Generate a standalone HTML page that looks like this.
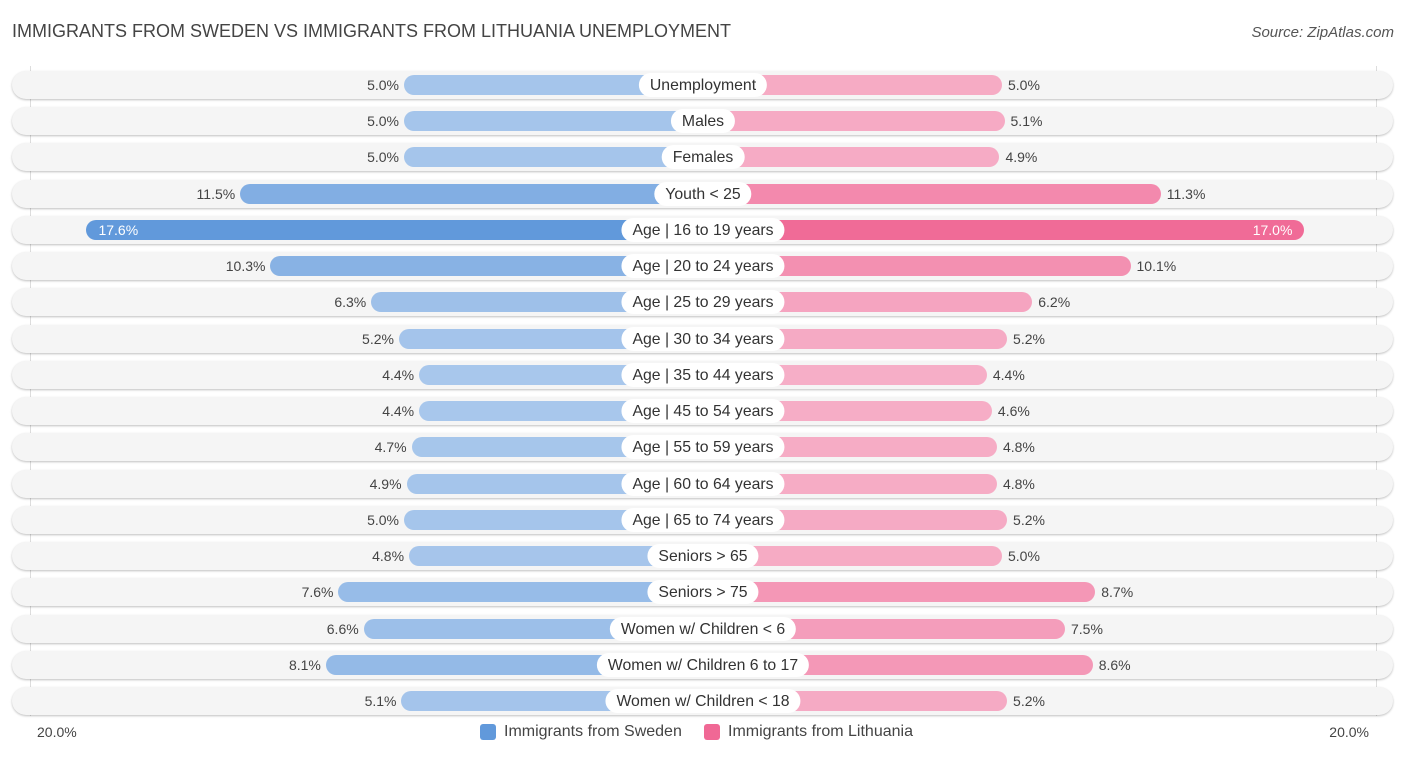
<!DOCTYPE html>
<html><head><meta charset="utf-8"><style>
body{margin:0;width:1406px;height:757px;background:#fff;font-family:"Liberation Sans",Roboto,sans-serif;position:relative;overflow:hidden}
.t{position:absolute;left:12px;top:21px;font-size:18px;color:#444}
.s{position:absolute;right:12px;top:24px;font-size:15px;color:#555;font-style:italic}
.row{position:absolute;left:12px;width:1381px;height:28px;border-radius:14px;background:#f5f5f5;box-shadow:0 1px 2px rgba(0,0,0,.25)}
.bar{position:absolute;height:20px;border-radius:10px}
.lab{position:absolute;height:24px;line-height:25px;padding:0 11px;background:#fff;border-radius:12px;font-size:15.8px;color:#333;transform:translateX(-50%);white-space:nowrap}
.v{position:absolute;font-size:14px;color:#444;line-height:21px}
.ax{position:absolute;top:724px;font-size:14px;color:#444}
.leg{position:absolute;top:723px;font-size:16px;color:#444;display:flex;align-items:center}
.sw{width:16px;height:16px;border-radius:3px;margin-right:8px}
</style></head><body>
<div class="t">IMMIGRANTS FROM SWEDEN VS IMMIGRANTS FROM LITHUANIA UNEMPLOYMENT</div>
<div class="s">Source: ZipAtlas.com</div>
<div id="chart"></div>
<div class="ax" style="left:37px">20.0%</div>
<div class="ax" style="right:37px">20.0%</div>
<div class="leg" style="left:480px"><div class="sw" style="background:#6199db"></div>Immigrants from Sweden</div>
<div class="leg" style="left:704px"><div class="sw" style="background:#f06895"></div>Immigrants from Lithuania</div>
<script>
const categories=["Unemployment","Males","Females","Youth < 25","Age | 16 to 19 years","Age | 20 to 24 years","Age | 25 to 29 years","Age | 30 to 34 years","Age | 35 to 44 years","Age | 45 to 54 years","Age | 55 to 59 years","Age | 60 to 64 years","Age | 65 to 74 years","Seniors > 65","Seniors > 75","Women w/ Children < 6","Women w/ Children 6 to 17","Women w/ Children < 18"];
const sweden=[5.0,5.0,5.0,11.5,17.6,10.3,6.3,5.2,4.4,4.4,4.7,4.9,5.0,4.8,7.6,6.6,8.1,5.1];
const lithuania=[5.0,5.1,4.9,11.3,17.0,10.1,6.2,5.2,4.4,4.6,4.8,4.8,5.2,5.0,8.7,7.5,8.6,5.2];
const CX=703,Y0=85,DY=36.24;
function w(v){return 173+25.2*v;}
function mix(a,b,t){return 'rgb('+a.map((x,i)=>Math.round(x+(b[i]-x)*t)).join(',')+')';}
function col(v,side){const t=Math.max(0,Math.min(1,(v-4)/13.6));
 return side?mix([246,176,200],[240,104,149],t):mix([170,200,236],[97,153,219],t);}
const c=document.getElementById('chart');
function mk(cls,css,txt){const e=document.createElement('div');e.className=cls;e.style.cssText=css;if(txt!==undefined)e.textContent=txt;c.appendChild(e);return e;}
const g=mk('', 'position:absolute;left:30px;top:66px;width:1px;height:650px;background:#ddd');


const g2=mk('', 'position:absolute;left:1376px;top:66px;width:1px;height:650px;background:#ddd');


categories.forEach((cat,i)=>{
 const y=Y0+i*DY;
 const r=mk('row','top:'+(y-14)+'px');
 
 
 const ws=w(sweden[i]),wl=w(lithuania[i]);
 const b1=mk('bar','left:'+(CX-ws)+'px;top:'+(y-10)+'px;width:'+ws+'px;background:'+col(sweden[i],0));
 
 
 const b2=mk('bar','left:'+CX+'px;top:'+(y-10)+'px;width:'+wl+'px;background:'+col(lithuania[i],1));
 
 
 let v1,v2;
 if(sweden[i]>15){v1=mk('v','left:'+(CX-ws+12)+'px;top:'+(y-10)+'px;color:#fff',sweden[i].toFixed(1)+'%');}
 else{v1=mk('v','right:'+(1406-(CX-ws)+5)+'px;top:'+(y-10)+'px',sweden[i].toFixed(1)+'%');}
 
 
 if(lithuania[i]>15){v2=mk('v','right:'+(1406-(CX+wl)+12)+'px;top:'+(y-10)+'px;color:#fff',lithuania[i].toFixed(1)+'%');}
 else{v2=mk('v','left:'+(CX+wl+6)+'px;top:'+(y-10)+'px',lithuania[i].toFixed(1)+'%');}
 
 
 const l=mk('lab','left:'+CX+'px;top:'+(y-12)+'px',cat);
 
 
});
</script>
</body></html>
